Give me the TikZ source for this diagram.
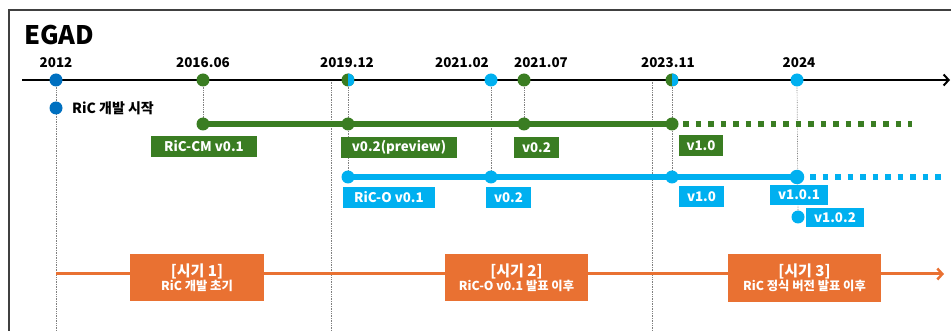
\documentclass[tikz,border=0pt]{standalone}
\usepackage{fontspec}
\setmainfont{Noto Sans CJK KR}
\usetikzlibrary{arrows.meta}
\definecolor{gr}{HTML}{3A7D22}
\definecolor{cy}{HTML}{00B0F0}
\definecolor{db}{HTML}{0070C0}
\definecolor{og}{HTML}{E97132}
\newcommand{\pone}{\fontsize{15}{17}\selectfont\bfseries}
\newcommand{\ptwo}{\fontsize{12.3}{13}\selectfont\bfseries}
\begin{document}
\begin{tikzpicture}[x=1pt,y=-1pt,
  dot/.style={circle,inner sep=0pt,minimum size=13pt,fill=#1},
  halfdot/.style={circle,inner sep=0pt,minimum size=13pt,fill=gr,
    path picture={\fill[cy] (path picture bounding box.north) rectangle (path picture bounding box.south east);}},
  year/.style={font=\fontsize{13.4}{14}\selectfont\bfseries,inner sep=0pt},
  tag/.style={fill=#1,text=white,font=\fontsize{13.3}{14}\selectfont\bfseries,inner sep=0pt,minimum height=21pt},
  guide/.style={gray,densely dotted,line width=0.7pt},
  period/.style={fill=og,text=white,inner sep=0pt,minimum height=47pt,align=center}
]
\useasboundingbox (0,0) rectangle (951,331);
% frame
\draw[black!75,line width=1.5pt] (9,331) -- (9,10) -- (951,10);
\node[anchor=west,inner sep=0pt,font=\fontsize{25.5}{26}\selectfont\bfseries] (title) at (24,35) {EGAD};

% coordinates
\coordinate (axs) at (22,80);
\coordinate (axe) at (950,80);
\coordinate (b1) at (56,331);
\coordinate (t2) at (331,80);
\coordinate (b2) at (331,331);
\coordinate (t3) at (652,80);
\coordinate (b3) at (652,331);
\coordinate (gend) at (912,124);
\coordinate (cend) at (944,177);

% dot positions
\path
  coordinate (d2012) at (56,80)
  coordinate (d1606) at (203,80)
  coordinate (d1912) at (348,80)
  coordinate (d2102) at (491,80)
  coordinate (d2107) at (524,80)
  coordinate (d2311) at (672,80)
  coordinate (d2024) at (797,80)
  coordinate (start) at (56,108)
  coordinate (g1) at (203,124)
  coordinate (g2) at (348,124)
  coordinate (g3) at (524,124)
  coordinate (g4) at (672,124)
  coordinate (c1) at (348,177)
  coordinate (c2) at (491,177)
  coordinate (c3) at (672,177)
  coordinate (c4) at (797,177)
  coordinate (c5) at (798,217);

% guides
\draw[guide] (d2012) -- (b1);
\draw[guide] (d1606) -- (g1);
\draw[guide] (t2) -- (b2);
\draw[guide] (d1912) -- (c1);
\draw[guide] (d2102) -- (c2);
\draw[guide] (d2107) -- (g3);
\draw[guide] (t3) -- (b3);
\draw[guide] (d2311) -- (c3);
\draw[guide] (d2024) -- (c5);

% axis
\draw[line width=2.2pt,-{Straight Barb[length=5pt,width=11pt,line width=2pt]}] (axs) -- (axe);

% lines
\draw[gr,line width=6pt] (g1) -- (g4);
\draw[gr,line width=5.5pt,dash pattern=on 5.5pt off 7pt] (g4) ++(11,0) coordinate (gs) (gs) -- (gend);
\draw[cy,line width=6pt] (c1) -- (c4);
\draw[cy,line width=5.5pt,dash pattern=on 5.5pt off 7pt] (c4) ++(13,0) coordinate (cs) (cs) -- (cend);

% orange timeline
\coordinate (os) at (56,274);
\coordinate (oe) at (944,274);
\draw[og,line width=3pt,-{Straight Barb[length=5pt,width=11pt,line width=2.5pt]}] (os) -- (oe);

% dots
\path
  node[dot=db] (n2012) at (d2012) {}
  node[dot=gr] (n1606) at (d1606) {}
  node[halfdot] (n1912) at (d1912) {}
  node[dot=cy] (n2102) at (d2102) {}
  node[dot=gr] (n2107) at (d2107) {}
  node[halfdot] (n2311) at (d2311) {}
  node[dot=cy] (n2024) at (d2024) {}
  node[dot=db] (nstart) at (start) {}
  node[dot=gr] (ng1) at (g1) {}
  node[dot=gr] (ng2) at (g2) {}
  node[dot=gr] (ng3) at (g3) {}
  node[dot=gr] (ng4) at (g4) {}
  node[dot=cy] (nc1) at (c1) {}
  node[dot=cy] (nc2) at (c2) {}
  node[dot=cy] (nc3) at (c3) {}
  node[dot=cy,minimum size=14.5pt] (nc4) at (c4) {}
  node[dot=cy] (nc5) at (c5) {};

% year labels
\node[year] (y2012) at (56,63) {2012};
\node[year] (y1606) at (203,63) {2016.06};
\node[year] (y1912) at (347,63) {2019.12};
\node[year] (y2102) at (462,63) {2021.02};
\node[year] (y2107) at (541,63) {2021.07};
\node[year] (y2311) at (668,63) {2023.11};
\node[year] (y2024) at (799,63) {2024};

\node[anchor=west,inner sep=0pt,font=\fontsize{14}{15}\selectfont\bfseries] (starttxt) at (72,108) {RiC 개발 시작};

% tags
\node[tag=gr,minimum width=106pt] (tg1) at (204,146.5) {RiC-CM v0.1};
\node[tag=gr,minimum width=116pt] (tg2) at (399,147.5) {v0.2(preview)};
\node[tag=gr,minimum width=45pt] (tg3) at (536.5,147.5) {v0.2};
\node[tag=gr,minimum width=44pt] (tg4) at (701,146) {v1.0};
\node[tag=cy,minimum width=92pt] (tc1) at (389,197.5) {RiC-O v0.1};
\node[tag=cy,minimum width=45pt] (tc2) at (508.5,197.5) {v0.2};
\node[tag=cy,minimum width=45pt] (tc3) at (701.5,197) {v1.0};
\node[tag=cy,minimum width=58pt,minimum height=20pt] (tc4) at (799,195) {v1.0.1};
\node[tag=cy,minimum width=58pt,minimum height=19pt] (tc5) at (835,217.5) {v1.0.2};

% periods
\node[period,minimum width=134pt] (per1) at (197,277.5) {{\pone [시기 1]}\\[0pt]{\ptwo RiC 개발 초기}};
\node[period,minimum width=143pt] (per2) at (516.5,277.5) {{\pone [시기 2]}\\[0pt]{\ptwo RiC-O v0.1 발표 이후}};
\node[period,minimum width=153pt,minimum height=48pt] (per3) at (804.5,278) {{\pone [시기 3]}\\[0pt]{\ptwo RiC 정식 버전 발표 이후}};
\end{tikzpicture}
\end{document}
